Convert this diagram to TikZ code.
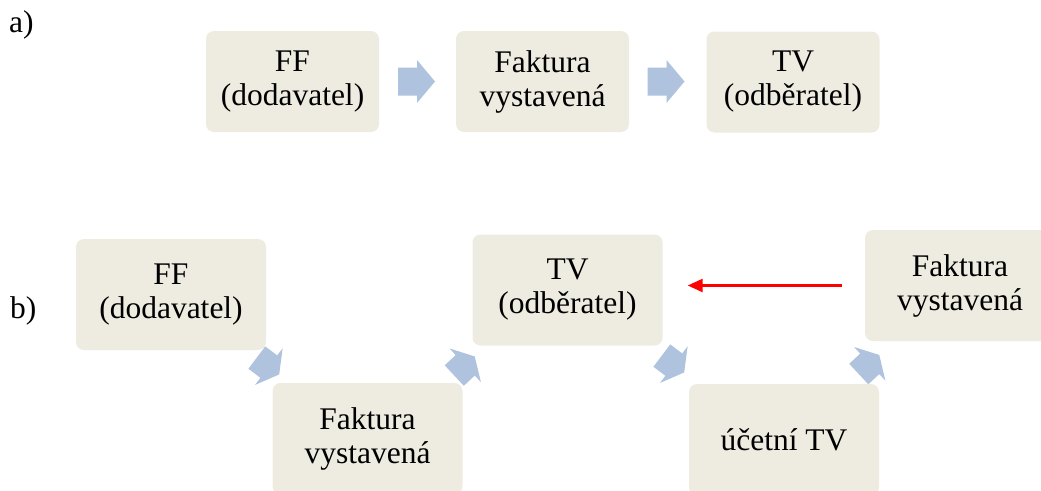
\documentclass[tikz,border=0pt]{standalone}
\usepackage{fontspec}
\setmainfont{Liberation Serif}
\newfontfamily\tnr{Liberation Serif}
\usetikzlibrary{arrows.meta}
\definecolor{boxfill}{HTML}{EEECE1}
\definecolor{arrfill}{HTML}{B0C3DE}
\tikzset{
  box/.style={fill=boxfill, rounded corners=8pt, align=center, inner sep=0pt,
    font=\tnr\fontsize{31.5}{34}\selectfont},
  topbox/.style={box, minimum width=173pt, minimum height=101pt},
  lowbox/.style={box, minimum width=190pt, minimum height=111pt},
  lbl/.style={font=\tnr\fontsize{31.5}{34}\selectfont, anchor=base west, inner sep=0pt},
  pics/fatarrow/.style n args={4}{code={
    \fill[arrfill] (-#1/2,#4/2) -- (#1/2-#2,#4/2) -- (#1/2-#2,#3/2) -- (#1/2,0)
      -- (#1/2-#2,-#3/2) -- (#1/2-#2,-#4/2) -- (-#1/2,-#4/2) -- cycle;
  }}
}
\begin{document}
\begin{tikzpicture}[x=1pt,y=-1pt]
\useasboundingbox (0,0) rectangle (1041,490);
\clip (0,0) rectangle (1041,490);
\fill[white] (0,0) rectangle (1041,490);
% block arrows
\pic[rotate=0] at (416.5,81.5) {fatarrow={37}{18}{43}{28}};
\pic[rotate=0] at (666,81.5) {fatarrow={37}{18}{43}{28}};
\pic[rotate=-37] at (268,366) {fatarrow={28}{13}{46}{28}};
\pic[rotate=43] at (464.5,366) {fatarrow={28}{13}{46}{28}};
\pic[rotate=-37] at (673,364) {fatarrow={28}{13}{46}{28}};
\pic[rotate=43] at (869,364.5) {fatarrow={28}{13}{46}{28}};
% labels
\node[lbl] (la) at (9,32) {a)};
\node[lbl] (lb) at (10,318) {b)};
% row a
\node[topbox] (a1) at (292.5,81.5) {FF\\(dodavatel)};
\node[topbox] (a2) at (542.5,81.5) {Faktura\\vystavená};
\node[topbox] (a3) at (793,82) {TV\\(odběratel)};
% row b
\node[lowbox] (b1) at (171,294.5) {FF\\(dodavatel)};
\node[lowbox] (b2) at (367.5,438.5) {Faktura\\vystavená};
\node[lowbox] (b3) at (567.5,290) {TV\\(odběratel)};
\node[lowbox] (b4) at (784,439.5) {účetní TV};
\node[lowbox] (b5) at (960,285.5) {Faktura\\vystavená};
% red arrow
\draw[red, line width=2.5pt, -{Triangle[length=15pt,width=13pt]},
  shorten <=23pt, shorten >=25pt] (b5.west) -- (b5.west -| b3.east);
\end{tikzpicture}
\end{document}
